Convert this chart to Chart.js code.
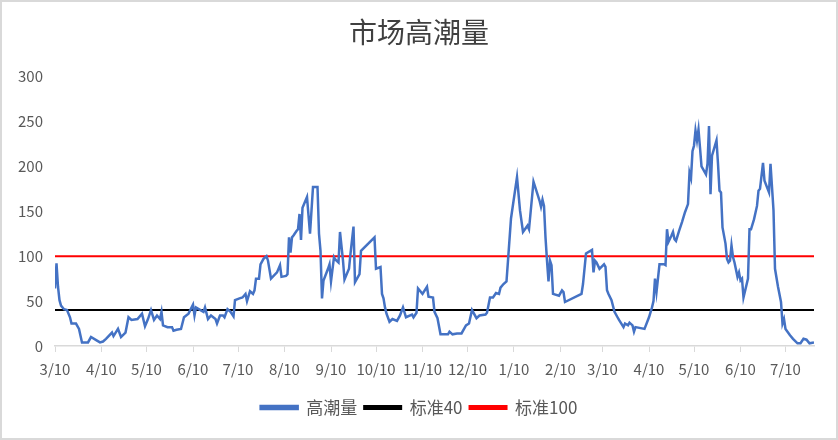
<!DOCTYPE html>
<html>
<head>
<meta charset="utf-8">
<script src="https://cdn.jsdelivr.net/npm/chart.js@4.4.1/dist/chart.umd.min.js"></script>
<style>
  html, body { margin: 0; padding: 0; background: #fff; }
  #frame { width: 838px; height: 440px; box-sizing: border-box; border: 2px solid #d9d9d9; }
  #chart { display: block; }
</style>
</head>
<body>
<div id="frame"><canvas id="chart" width="834" height="436"></canvas></div>
<script>
// dias contados desde 2018-03-10
const tickDays   = [0, 31, 61, 92, 122, 153, 184, 214, 245, 275, 306, 337, 365, 396, 426, 457, 487];
const tickLabels = ['3/10','4/10','5/10','6/10','7/10','8/10','9/10','10/10','11/10','12/10','1/10','2/10','3/10','4/10','5/10','6/10','7/10'];

const days = [
  0,1,2,3,4,6,8,10,11,14,16,18,22,24,28,30,32,34,38,39,42,44,47,49,51,55,58,60,62,64,
  66,68,70,71,72,75,78,79,81,84,86,89,92,93,94,97,99,100,102,104,107,108,110,112,113,115,117,119,120,123,
  125,127,128,130,132,133,134,136,137,139,141,142,144,148,150,151,154,155,156,157,158,159,161,162,163,164,165,168,170,172,
  175,176,177,178,179,182,183,184,186,187,189,190,192,193,196,197,199,200,203,204,213,214,217,218,219,220,221,223,225,228,
  230,232,234,238,239,241,242,245,248,249,252,253,255,257,262,263,265,268,271,274,276,278,281,283,287,288,290,292,294,296,
  297,299,301,302,304,308,310,312,315,316,319,323,324,325,326,327,328,329,330,331,332,336,338,339,340,351,352,354,358,359,
  360,361,363,366,367,368,369,371,373,375,376,379,380,382,383,385,386,387,393,396,398,399,400,401,403,406,407,408,409,411,
  412,413,414,416,418,420,422,423,424,425,426,427,428,429,430,431,434,435,436,437,438,441,442,443,444,445,447,448,449,450,
  451,452,453,455,456,457,458,459,462,463,464,466,468,469,470,472,473,476,477,479,480,482,484,485,486,487,490,492,495,497,
  499,501,503,506
];
const gaochao = [
  64,92,66,51,45,41,40,32,25,25,19,4,4,10,6,4,5,8,15,11,19,10,15,32,29,30,36,22,30,40,
  29,34,30,38,23,21,21,17,18,19,32,36,46,34,43,40,38,43,30,34,30,25,34,34,32,41,38,33,51,53,
  54,58,50,61,58,62,75,75,91,97,100,95,75,82,90,77,78,80,121,104,121,123,128,130,147,118,154,166,125,177,
  177,125,106,53,73,86,91,72,99,96,93,127,95,74,86,103,133,71,80,106,121,86,88,58,53,43,36,27,30,28,
  34,43,32,35,32,37,64,58,66,55,54,38,31,13,13,16,13,14,14,23,25,40,31,34,35,37,54,54,59,58,
  65,69,72,95,142,188,151,127,134,130,183,162,155,163,156,121,95,72,95,90,58,56,62,60,49,58,69,103,107,82,
  95,93,86,91,88,62,58,51,38,32,29,21,25,23,26,23,16,21,19,32,43,50,75,60,91,91,90,130,116,123,
  127,119,117,128,138,149,158,193,187,217,223,240,229,241,221,200,191,203,245,169,212,229,203,173,171,132,114,97,93,95,
  112,99,93,77,82,73,75,54,75,130,130,141,156,173,175,204,184,171,203,151,86,66,49,25,30,19,12,8,3,3,
  8,7,3,4
];
const estandar40 = 40;
const estandar100 = 100;

const primerDia = days[0];
const ultimoDia = days[days.length - 1];

const fuente = "'Noto Sans CJK SC', 'Open Sans', sans-serif";

new Chart(document.getElementById('chart'), {
  type: 'line',
  data: {
    datasets: [
      {
        label: '高潮量',
        data: days.map((d, i) => ({ x: d, y: gaochao[i] })),
        borderColor: '#4472C4',
        backgroundColor: '#4472C4',
        borderWidth: 2.5,
        pointRadius: 0,
        tension: 0
      },
      {
        label: '标准40',
        data: [{ x: primerDia, y: estandar40 }, { x: ultimoDia, y: estandar40 }],
        borderColor: '#000000',
        backgroundColor: '#000000',
        borderWidth: 2,
        pointRadius: 0
      },
      {
        label: '标准100',
        data: [{ x: primerDia, y: estandar100 }, { x: ultimoDia, y: estandar100 }],
        borderColor: '#FF0000',
        backgroundColor: '#FF0000',
        borderWidth: 2,
        pointRadius: 0
      }
    ]
  },
  options: {
    responsive: false,
    animation: false,
    layout: { padding: { left: 0, right: 0, top: 0, bottom: 12 } },
    plugins: {
      title: {
        display: true,
        text: '市场高潮量',
        color: '#404040',
        font: { family: fuente, size: 28, weight: 'normal' },
        padding: { top: 14, bottom: 27 }
      },
      legend: {
        display: true,
        position: 'bottom',
        labels: {
          color: '#595959',
          font: { family: fuente, size: 17 },
          boxWidth: 37,
          boxHeight: 3,
          padding: 7
        }
      },
      tooltip: { enabled: false }
    },
    scales: {
      x: {
        type: 'linear',
        min: primerDia,
        max: ultimoDia,
        afterBuildTicks: axis => { axis.ticks = tickDays.map(v => ({ value: v })); },
        afterFit: axis => { axis.height = 46; },
        ticks: {
          autoSkip: false,
          maxRotation: 0,
          color: '#595959',
          font: { family: fuente, size: 15 },
          padding: 8,
          callback: (value) => tickLabels[tickDays.indexOf(value)]
        },
        grid: { drawOnChartArea: false, color: '#d9d9d9', tickLength: 6 },
        border: { color: '#d9d9d9', width: 1.5 }
      },
      y: {
        min: 0,
        max: 300,
        afterFit: axis => { axis.width = 53; },
        ticks: {
          stepSize: 50,
          color: '#595959',
          font: { family: fuente, size: 15 },
          padding: 12
        },
        grid: { display: false, drawTicks: false },
        border: { display: false }
      },
      // eje vacio a la derecha, solo para dejar el margen
      margenDerecho: {
        type: 'linear',
        position: 'right',
        min: 0,
        max: 300,
        afterFit: axis => { axis.width = 22; },
        ticks: { display: false },
        grid: { display: false, drawTicks: false },
        border: { display: false }
      }
    }
  }
});
</script>
</body>
</html>
